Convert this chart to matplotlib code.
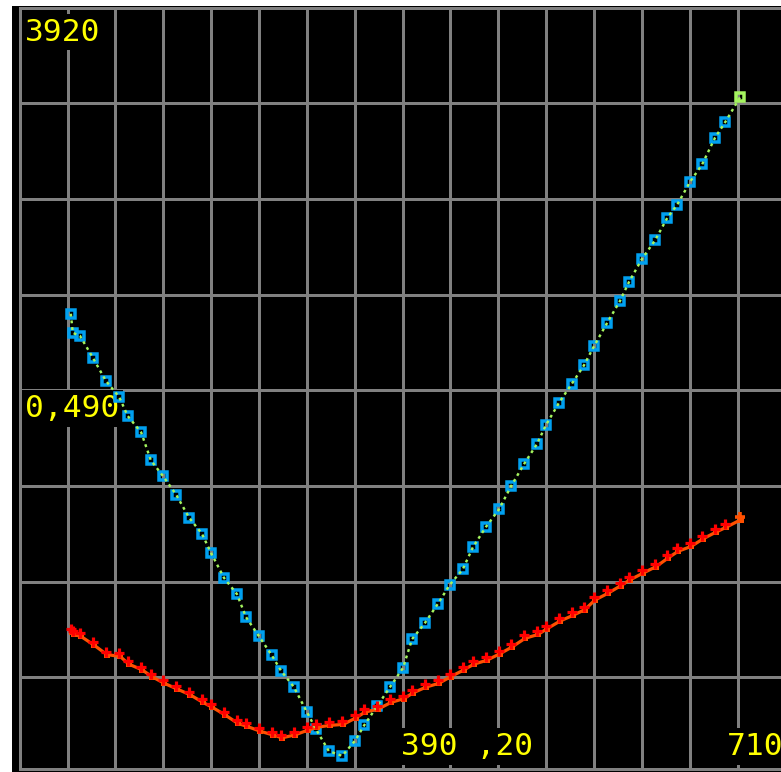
import matplotlib
matplotlib.use("Agg")
import matplotlib.pyplot as plt
import matplotlib.transforms as mtransforms
from matplotlib.patches import Rectangle
from matplotlib.ticker import MultipleLocator

# ---- data -------------------------------------------------------------
t = [10.7, 11.1, 12.6, 15.3, 18.0, 20.8, 22.6, 25.4, 27.4, 30.0,
     32.7, 35.4, 38.1, 40.0, 42.7, 45.4, 47.3, 50.0, 52.7, 54.6,
     57.3, 60.0, 61.9, 64.6, 67.4, 70.1, 72.0, 74.7, 77.4, 80.1,
     82.0, 84.7, 87.4, 89.9, 92.6, 94.7, 97.4, 100.2, 102.7, 105.4,
     108.1, 110.0, 112.7, 115.4, 117.9, 120.0, 122.7, 125.4, 127.3, 130.0,
     132.8, 135.3, 137.4, 140.1, 142.6, 145.3, 147.4, 150.5]

trace_a = [48.0, 46.0, 45.7, 43.4, 41.0, 39.3, 37.3, 35.6, 32.7, 31.0,
           29.1, 26.7, 25.0, 23.0, 20.4, 18.7, 16.3, 14.3, 12.3, 10.7,
           9.0, 6.4, 4.6, 2.3, 1.8, 3.4, 5.0, 7.0, 9.0, 11.0,
           14.0, 15.7, 17.7, 19.7, 21.3, 23.6, 25.7, 27.6, 30.0, 32.3,
           34.4, 36.4, 38.7, 40.7, 42.6, 44.6, 47.0, 49.3, 51.3, 53.7,
           55.7, 58.0, 59.4, 61.8, 63.6, 66.4, 68.0, 70.6]

trace_b = [15.1, 14.8, 14.6, 13.7, 12.7, 12.5, 11.7, 11.1, 10.4, 9.7,
           9.1, 8.5, 7.7, 7.2, 6.4, 5.5, 5.2, 4.7, 4.3, 4.0,
           4.3, 4.8, 5.1, 5.3, 5.4, 6.1, 6.7, 7.0, 7.7, 8.1,
           8.7, 9.3, 9.7, 10.4, 11.1, 11.7, 12.1, 12.8, 13.5, 14.4,
           14.8, 15.4, 16.2, 16.8, 17.4, 18.4, 19.1, 19.9, 20.5, 21.2,
           21.9, 22.8, 23.5, 24.0, 24.8, 25.5, 26.0, 26.8]

readouts = ["3920", "0,490", "390 ,20", "710"]

# ---- styling ----------------------------------------------------------
W, H, DPI = 781, 772, 100
PX = 72.0 / DPI          # points per pixel

GRID = "#808080"
BLUE = "#00A0F0"
GREEN = "#A5F55F"
RED = "#FF0000"
ORANGE = "#FF5000"
YELLOW = "#FFFF00"

fig = plt.figure(figsize=(W / DPI, H / DPI), dpi=DPI, facecolor="white")
fig.add_artist(Rectangle((12 / W, 0), 1, (H - 6) / H, transform=fig.transFigure,
                         facecolor="black", edgecolor="none", zorder=-1))

left_px, right_px, top_px, bot_px = 19.64, 785.4, 7.5, 768.5
ax = fig.add_axes([left_px / W, (H - bot_px) / H,
                   (right_px - left_px) / W, (bot_px - top_px) / H])
ax.set_facecolor("black")
ax.set_xlim(0, 160)
ax.set_ylim(80 - (bot_px - top_px) / 9.57, 80)
ax.xaxis.set_major_locator(MultipleLocator(10))
ax.yaxis.set_major_locator(MultipleLocator(10))
ax.tick_params(length=0, labelbottom=False, labelleft=False)
ax.set_axisbelow(True)
ax.grid(True, color=GRID, linewidth=3 * PX)
for sp in ax.spines.values():
    sp.set_color(GRID)
    sp.set_linewidth(3 * PX)
    sp.set_zorder(6)

# trace A: hollow blue samples with a dotted green trace, live point in green
SQ, SQW = 7.2 * PX, 3.5 * PX
ax.plot(t[:-1], trace_a[:-1], linestyle="none", marker="s",
        markersize=SQ, markeredgewidth=SQW,
        markeredgecolor=BLUE, markerfacecolor="none", zorder=4)
ax.plot(t, trace_a, color=GREEN, linewidth=2.4 * PX,
        linestyle=(0, (1.2, 1.6)), dash_capstyle="butt", zorder=5)
ax.plot(t[-1:], trace_a[-1:], linestyle="none", marker="s",
        markersize=SQ, markeredgewidth=SQW,
        markeredgecolor=GREEN, markerfacecolor="none", zorder=6)

# trace B: red crosses over an orange trace, live point in orange
shifted = mtransforms.offset_copy(ax.transData, fig=fig, x=1, y=-3, units="dots")
ax.plot(t, trace_b, color=ORANGE, linewidth=3.2 * PX, marker="s",
        markersize=5.5 * PX, markeredgewidth=0, transform=shifted, zorder=4)
ax.plot(t[:-1], trace_b[:-1], linestyle="none", marker="+",
        markersize=10 * PX, markeredgewidth=3.2 * PX, color=RED, zorder=5)
ax.plot(t[-1:], trace_b[-1:], linestyle="none", marker="+",
        markersize=10 * PX, markeredgewidth=3.6 * PX, color=ORANGE, zorder=6)

# numeric readouts
positions = [(1.12, 76.55), (1.12, 37.19), (79.68, 1.87), (147.8, 1.87)]
for label, (x, y) in zip(readouts, positions):
    ax.text(x, y, label, color=YELLOW, fontsize=22.5,
            fontfamily="DejaVu Sans Mono", ha="left", va="baseline",
            bbox=dict(boxstyle="square,pad=0.12", facecolor="black",
                      edgecolor="none"),
            zorder=3, clip_on=False)

fig.savefig("out.png", dpi=DPI, facecolor=fig.get_facecolor())
